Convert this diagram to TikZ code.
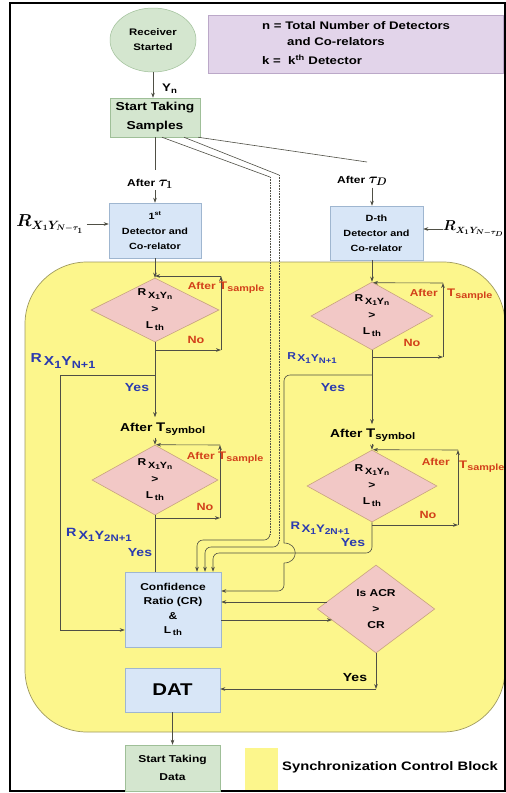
\documentclass[tikz,border=0pt]{standalone}
\usepackage{fontspec}
\newfontfamily\arial[FakeStretch=1.2]{Liberation Sans}
\usetikzlibrary{shapes.geometric,arrows.meta,calc}
\definecolor{grn}{HTML}{D4E6CF}
\definecolor{grnb}{HTML}{9FBF98}
\definecolor{lblue}{HTML}{D8E6F7}
\definecolor{bluebdr}{HTML}{9FB6D0}
\definecolor{pinkd}{HTML}{F2C8C6}
\definecolor{pinkb}{HTML}{C8A37E}
\definecolor{lav}{HTML}{E2D4EA}
\definecolor{lavb}{HTML}{BBA8C8}
\definecolor{yel}{HTML}{FCF68C}
\definecolor{yelb}{HTML}{A09B60}
\definecolor{redt}{HTML}{D2401A}
\definecolor{bluet}{HTML}{2A3AB0}
\definecolor{linec}{HTML}{4F4F45}
\newcommand\fsz[2]{\fontsize{#1}{#2}\selectfont}
\newcommand\sbx[2]{\raisebox{-0.4ex}{\fontsize{#1}{#1}\selectfont #2}}
\newcommand\RX[4]{{\fontsize{#1}{#1}\selectfont R\hspace{#4}\raisebox{-0.5ex}{X\raisebox{-0.35ex}{\fontsize{#2}{#2}\selectfont 1}Y\raisebox{-0.35ex}{\fontsize{#2}{#2}\selectfont #3}}}}
\newcommand\RXd{R\,\raisebox{-0.45ex}{\fontsize{9}{9}\selectfont X\raisebox{-0.3ex}{\fontsize{7}{7}\selectfont 1}Y\raisebox{-0.3ex}{\fontsize{7}{7}\selectfont n}}}
\newcommand\Lth{L\,\raisebox{-0.4ex}{\fontsize{8}{8}\selectfont th}}
\begin{document}
\begin{tikzpicture}[x=1pt,y=-1pt,
  conn/.style={draw=linec, line width=0.6pt},
  arr/.style={conn, -{Stealth[length=5pt,width=3.6pt]}},
  txtbase/.style={inner sep=0pt, align=center},
  ell/.style={txtbase, ellipse, fill=grn, draw=grnb, line width=0.5pt},
  greenbox/.style={txtbase, rectangle, fill=grn, draw=grnb, line width=0.5pt},
  bluebox/.style={txtbase, rectangle, fill=lblue, draw=bluebdr, line width=0.5pt},
  dia/.style={txtbase, diamond, shape aspect=2, fill=pinkd, draw=pinkb, line width=0.6pt, font=\arial\bfseries\fsz{10}{16.5}},
  lbl/.style={inner sep=0pt, font=\arial\bfseries},
  redl/.style={lbl, text=redt},
  bluel/.style={lbl, text=bluet}]
\useasboundingbox (0,0) rectangle (506,793);
\fill[white] (0,0) rectangle (506,793);
% synchronization control block
\path[fill=yel, draw=yelb, line width=0.7pt, rounded corners=62pt] (25,262) rectangle (505,732);
\draw[line width=1.5pt] (10,3) rectangle (505,791);

% top
\node[ell, font=\arial\bfseries\fsz{9.5}{15}, minimum width=86, minimum height=64] (recv) at (153,40) {Receiver\\Started};
\node[draw=lavb, fill=lav, minimum width=295, minimum height=58, inner sep=0pt] (leg) at (355.5,44) {};
\node[lbl, font=\arial\bfseries\fsz{11}{13}, anchor=base west] (leg1) at (262,29) {n = Total Number of Detectors};
\node[lbl, font=\arial\bfseries\fsz{11}{13}, anchor=base west] (leg2) at (287,45) {and Co-relators};
\node[lbl, font=\arial\bfseries\fsz{11}{13}, anchor=base west] (leg3) at (262,64) {k =\ \ k\textsuperscript{th} Detector};

\node[greenbox, font=\arial\bfseries\fsz{11.5}{19}, minimum width=90, minimum height=39] (samp) at (155,117.5) {Start Taking\\Samples};
\draw[arr] (recv.south) -- (recv.south |- samp.north);
\node[lbl, font=\arial\bfseries\fsz{11}{11}, anchor=base west] (yn) at (162,91) {Y\sbx{8}{n}};

\node[lbl, anchor=base west, font=\arial\bfseries\fsz{10}{12}] (aft1) at (127,186) {After {\fontsize{15}{15}\selectfont\boldmath$\tau_1$}};
\draw[conn] (samp.south) -- ++(0,33);
\node[bluebox, font=\arial\bfseries\fsz{9}{15}, minimum width=92, minimum height=55] (det1) at (155,230.5) {1\textsuperscript{st}\\Detector and\\Co-relator};
\draw[arr] ($(samp.south |- aft1.south)+(0,2)$) -- (samp.south |- det1.north);
\node[inner sep=0pt, font=\fsz{17}{17}\boldmath] (rl1) at (50,224) {$R_{X_1Y_{N-\tau_1}}$};
\draw[arr] ($(rl1.east)+(3,0)$) -- (det1.west |- rl1.east);

\node[lbl, anchor=base west, font=\arial\bfseries\fsz{10}{12}] (aftD) at (337,183) {After {\fontsize{15}{15}\selectfont\boldmath$\tau_D$}};
\coordinate (xR) at (372,0);
\node[bluebox, font=\arial\bfseries\fsz{9}{15}, minimum width=93, minimum height=54] (detD) at (376.5,233) {D-th\\Detector and\\Co-relator};
\draw[arr] ($(aftD.south -| xR)+(0,2)$) -- (xR |- detD.north);
\node[inner sep=0pt, anchor=west, font=\fsz{13.5}{14}\boldmath] (rlD) at (443,229) {$R_{X_1Y_{N-\tau_D}}$};
\draw[arr] (rlD.west) -- (detD.east |- rlD.west);

% diamonds
\node[dia, minimum width=128, minimum height=64] (d1L) at (155,310) {\RXd\\>\\\Lth};
\node[dia, minimum width=122, minimum height=68] (d1R) at (372,316) {\RXd\\>\\\Lth};
\node[dia, minimum width=126, minimum height=70] (d2L) at (155,480) {\RXd\\>\\\Lth};
\node[dia, minimum width=130, minimum height=72] (d2R) at (372,486) {\RXd\\>\\\Lth};
\node[dia, font=\arial\bfseries\fsz{10}{16}, minimum width=116, minimum height=88] (ACR) at (376,609) {Is ACR\\>\\CR};

\node[bluebox, font=\arial\bfseries\fsz{10}{14.5}, minimum width=96, minimum height=75] (CR) at (173,609.5) {Confidence\\Ratio (CR)\\\&\\\Lth};
\node[bluebox, font=\arial\bfseries\fsz{17}{17}, minimum width=95, minimum height=44] (DAT) at (172.5,690) {DAT};
\node[greenbox, font=\arial\bfseries\fsz{10}{18}, minimum width=95, minimum height=46] (STD) at (172.5,768) {Start Taking\\Data};
\draw[arr] (DAT.south) -- (STD.north);
\node[fill=yel, minimum width=33, minimum height=42, inner sep=0pt] (ysq) at (261.5,769) {};
\node[lbl, anchor=west, font=\arial\bfseries\fsz{12.3}{14}] (ylab) at (282,767) {Synchronization Control Block};

% dotted / double lines from samples
\coordinate (dA) at (270,177);
\coordinate (dB) at (279,175);
\coordinate (dC) at (367,162);
\draw[conn] ($(samp.south)+(7,0)$) -- (dA);
\draw[conn] ($(samp.south)+(29,0)$) -- (dB);
\draw[conn] ($(samp.south east)+(-2,0)$) -- (dC);
\draw[conn, densely dotted] (dA) -- (270,534);
\draw[conn, densely dotted] (dB) -- (279,541);
\draw[arr, rounded corners=6pt] (270,534) -- (270,540) -- (197,540) -- (197,540 |- CR.north);
\draw[arr, rounded corners=6pt] (279,541) -- (279,547) -- (205,547) -- (205,547 |- CR.north);

% left column
\node[lbl, anchor=base west, font=\arial\bfseries\fsz{11.5}{12}] (aSL) at (120,431) {After \fsz{12.5}{12}T\sbx{9.5}{symbol}};
\draw[arr] (det1.south -| d1L.north) -- (d1L.north);
\draw[arr] (d1L.south) -- ($(d1L.south |- aSL.north)+(0,-5)$);
\draw[arr] ($(d2L.north |- aSL.south)+(0,2)$) -- (d2L.north);
\coordinate (L1a) at (155,350);
\coordinate (L1b) at (221,350);
\coordinate (L1c) at (221,276);
\draw[arr] (L1a) -- (L1b);
\draw[arr] (L1b) -- (L1c);
\draw[arr] (L1c) -- (d1L.north |- L1c);
\node[redl, anchor=base east, font=\arial\bfseries\fsz{10}{12}] (aL1) at (216,289) {After};
\node[redl, anchor=base west, font=\arial\bfseries\fsz{11}{12}] (tL1) at (219,289) {T\sbx{9}{sample}};
\node[redl, font=\arial\bfseries\fsz{10.5}{12}] (nL1) at (196,340) {No};
\node[bluel] (rbL1) at (63,361) {\RX{13}{10.5}{N+1}{2pt}};
\node[bluel, font=\arial\bfseries\fsz{11.7}{12}] (yL1) at (137,388) {Yes};
\coordinate (L1y) at (155,375);
\coordinate (L1w) at (60,375);
\coordinate (L1s) at (60,630);
\draw[arr] (L1y) -- (L1w) -- (L1s) -- (L1s -| CR.west);

\coordinate (L2a) at (155,518);
\coordinate (L2b) at (220,518);
\coordinate (L2c) at (220,445);
\draw[arr] (L2a) -- (L2b);
\draw[arr] (L2b) -- (L2c);
\draw[arr] (L2c) -- ($(d2L.north)+(1,0)$);
\node[redl, anchor=base east, font=\arial\bfseries\fsz{10}{12}] (aL2) at (215,459) {After};
\node[redl, anchor=base west, font=\arial\bfseries\fsz{11}{12}] (tL2) at (218,459) {T\sbx{9}{sample}};
\node[redl, font=\arial\bfseries\fsz{10.5}{12}] (nL2) at (205,507) {No};
\node[bluel] (rbL2) at (99,535) {\RX{12}{9.5}{2N+1}{2pt}};
\node[bluel, font=\arial\bfseries\fsz{11.7}{12}] (yL2) at (140,553) {Yes};
\draw[conn] (d2L.south) -- (d2L.south |- CR.north);

% right column
\node[lbl, anchor=base west, font=\arial\bfseries\fsz{11.5}{12}] (aSR) at (330,437) {After \fsz{12.5}{12}T\sbx{9.5}{symbol}};
\draw[arr] (xR |- detD.south) -- (d1R.north);
\draw[arr] (d1R.south) -- ($(d1R.south |- aSR.north)+(0,-4)$);
\draw[arr] ($(d2R.north |- aSR.south)+(0,2)$) -- (d2R.north);
\coordinate (R1a) at (372,357);
\coordinate (R1b) at (443,357);
\coordinate (R1c) at (443,283);
\draw[arr] (R1a) -- (R1b);
\draw[arr] (R1b) -- (R1c);
\draw[arr] (R1c) -- ($(d1R.north)+(1,1)$);
\node[redl, anchor=base east, font=\arial\bfseries\fsz{10}{12}] (aR1) at (438,296) {After};
\node[redl, anchor=base west, font=\arial\bfseries\fsz{11}{12}] (tR1) at (447,296) {T\sbx{9}{sample}};
\node[redl, font=\arial\bfseries\fsz{10.5}{12}] (nR1) at (412,343) {No};
\node[bluel] (rbR1) at (312,358) {\RX{10}{8}{N+1}{1.5pt}};
\node[bluel, font=\arial\bfseries\fsz{11.7}{12}] (yR1) at (333,388) {Yes};

\coordinate (R2a) at (372,525);
\coordinate (R2b) at (458,525);
\coordinate (R2c) at (458,450);
\draw[arr] (R2a) -- (R2b);
\draw[arr] (R2b) -- (R2c);
\draw[arr] (R2c) -- ($(d2R.north)+(1,0)$);
\node[redl, anchor=base east, font=\arial\bfseries\fsz{10}{12}] (aR2) at (450,465) {After};
\node[redl, anchor=base west, font=\arial\bfseries\fsz{11}{12}] (tR2) at (459,468) {T\sbx{9}{sample}};
\node[redl, font=\arial\bfseries\fsz{10.5}{12}] (nR2) at (428,515) {No};
\node[bluel] (rbR2) at (320,528) {\RX{11}{8.5}{2N+1}{1.5pt}};
\node[bluel, font=\arial\bfseries\fsz{11.7}{12}] (yR2) at (353,543) {Yes};

% path from right column, second diamond yes
\coordinate (Cc) at (372,553);
\coordinate (Cd) at (213,553);
\draw[arr, rounded corners=6pt] (d2R.south) -- (Cc) -- (Cd) -- (Cd |- CR.north);
% path from right column, first diamond yes (with line hop)
\coordinate (Ra) at (372,375);
\coordinate (Rb) at (284,375);
\coordinate (Rh1) at (284,543);
\coordinate (Rh2) at (284,563);
\coordinate (Rd) at (284,591);
\draw[conn, rounded corners=6pt] (Ra) -- (Rb) -- (Rh1);
\draw[conn] (Rh1) .. controls (299,543) and (299,563) .. (Rh2);
\draw[arr, rounded corners=6pt] (Rh2) -- (Rd) -- (Rd -| CR.east);

% CR <-> ACR
\coordinate (Aa) at (327,602);
\coordinate (Ab) at (332,620);
\draw[arr] (Aa) -- (Aa -| CR.east);
\draw[arr] (CR.east |- Ab) -- (Ab);
\coordinate (Ay) at (376,689);
\draw[arr] (ACR.south) -- (Ay);
\draw[arr] (Ay) -- (Ay -| DAT.east);
\node[lbl, font=\arial\bfseries\fsz{11.7}{12}] (yA) at (355,678) {Yes};
\end{tikzpicture}
\end{document}
